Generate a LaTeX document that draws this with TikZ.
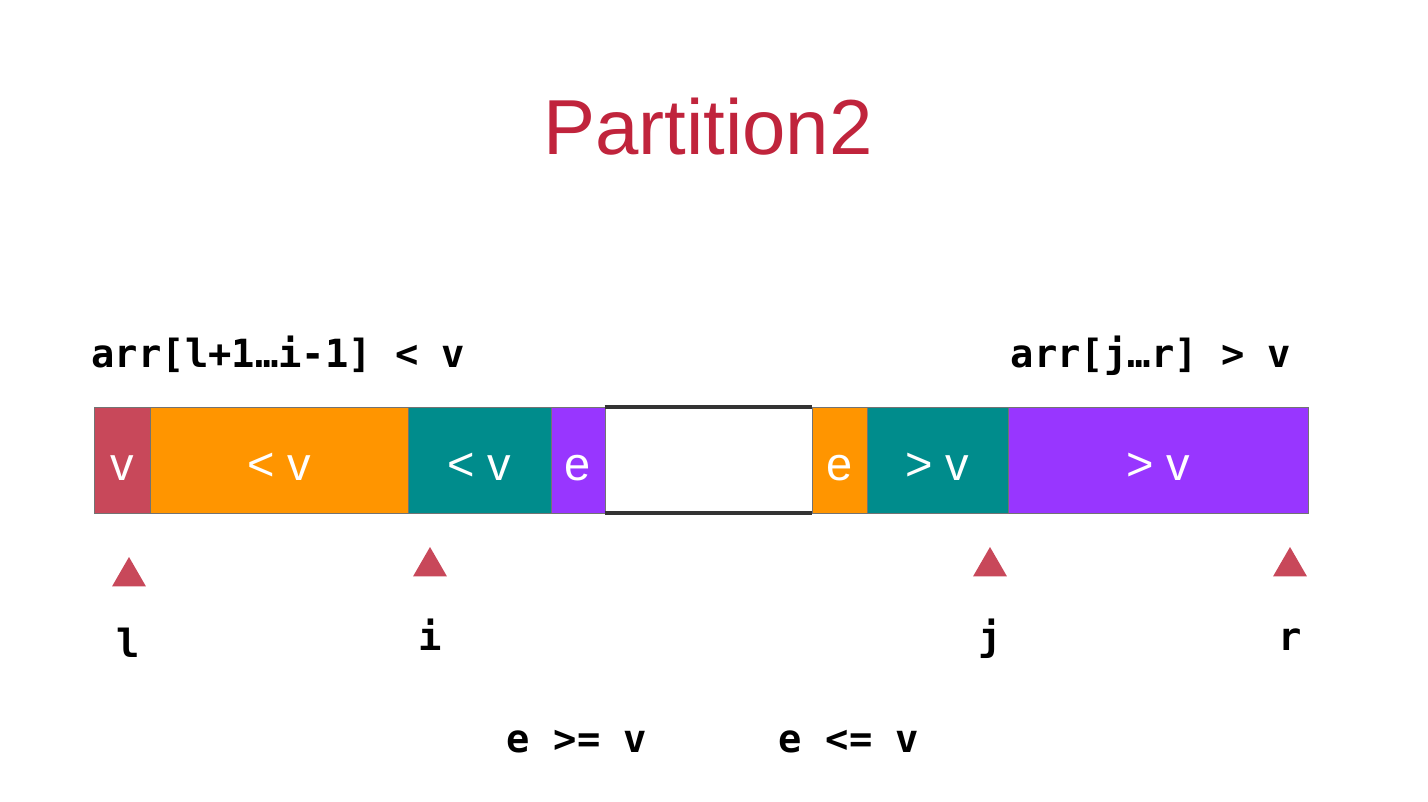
\documentclass[tikz,border=0pt]{standalone}
\usepackage{fontspec}
\setmainfont{Liberation Sans}
\newfontfamily\codefont{DejaVu Sans Mono}
\usetikzlibrary{shapes.geometric}

\definecolor{pivotred}{RGB}{200,72,90}
\definecolor{cellorange}{RGB}{255,149,0}
\definecolor{cellteal}{RGB}{0,140,140}
\definecolor{cellpurple}{RGB}{152,54,255}
\definecolor{titlered}{RGB}{192,36,60}

\begin{document}
\begin{tikzpicture}[x=0.5pt,y=-0.5pt]
\tikzset{
  cell/.style={rectangle,draw=black!55,line width=0.4pt,minimum height=53pt,inner sep=0pt,
    text height=20pt,text depth=0pt,text=white,font=\fontsize{23.5}{25}\selectfont},
  code/.style={font=\codefont\bfseries\fontsize{19.4}{22}\selectfont,inner sep=0pt,anchor=base},
  pointer/.style={regular polygon,regular polygon sides=3,fill=pivotred,minimum size=19.6pt,inner sep=0pt}
}
\useasboundingbox (0,0) rectangle (1428,802);
\node[text=titlered,font=\fontsize{39}{42}\selectfont,anchor=base,inner sep=0pt] (title) at (708,155) {Partition2};
\node[code] (lhs) at (278.5,367) {arr[l+1…i-1] < v};
\node[code] (rhs) at (1151,367) {arr[j…r] > v};
\node[cell,fill=pivotred,minimum width=28pt] (c_v) at (122,460) {v};
\node[cell,fill=cellorange,minimum width=129pt] (c_lt1) at (279,460) {< v};
\node[cell,fill=cellteal,minimum width=71.5pt] (c_lt2) at (479.5,460) {< v};
\node[cell,fill=cellpurple,minimum width=27pt] (c_e1) at (578,460) {e};
\node[cell,draw=none,minimum width=103.5pt] (c_gap) at (708.5,460) {};
\node[cell,fill=cellorange,minimum width=27.5pt] (c_e2) at (839.5,460) {e};
\node[cell,fill=cellteal,minimum width=70.5pt] (c_gt2) at (937.5,460) {> v};
\node[cell,fill=cellpurple,minimum width=150pt] (c_gt1) at (1158,460) {> v};
\draw[line width=2pt,black!80] (c_gap.north west) -- (c_gap.north east);
\draw[line width=2pt,black!80] (c_gap.south west) -- (c_gap.south east);
\node[pointer] (p_l) at (129,576.6) {};
\node[pointer] (p_i) at (430,566.6) {};
\node[pointer] (p_j) at (990,566.6) {};
\node[pointer] (p_r) at (1290,566.6) {};
\node[code] (t_l) at (128,657) {l};
\node[code] (t_i) at (430,650) {i};
\node[code] (t_j) at (990,650) {j};
\node[code] (t_r) at (1290,650) {r};
\node[code] (ge) at (577,752) {e >= v};
\node[code] (le) at (849,752) {e <= v};
\end{tikzpicture}
\end{document}
